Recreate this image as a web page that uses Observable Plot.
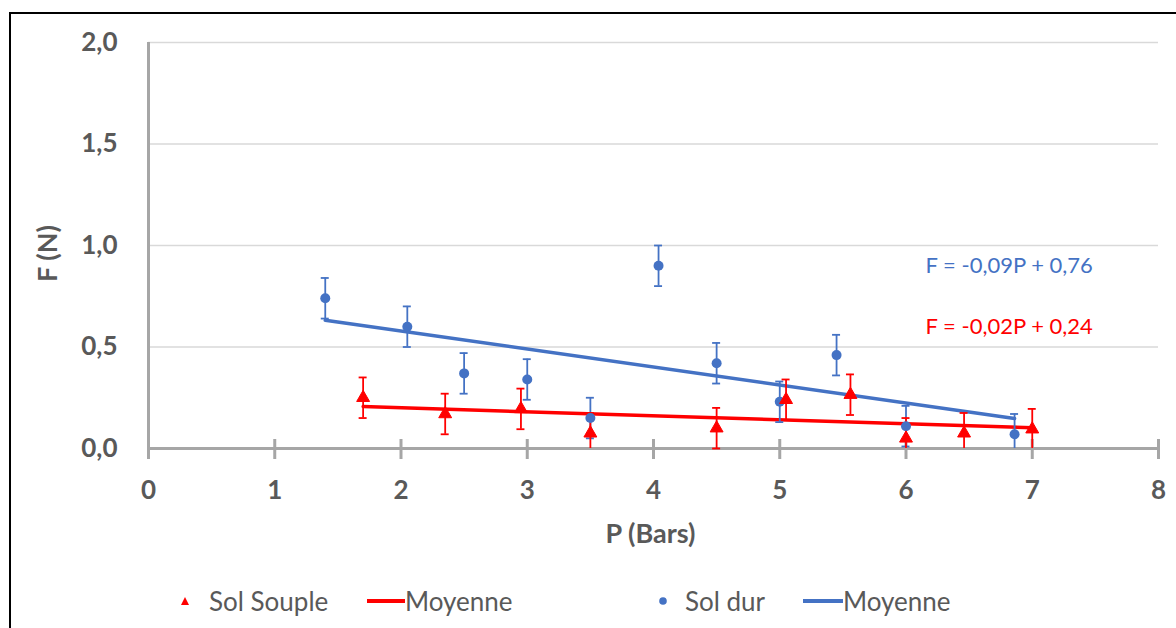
<!DOCTYPE html>
<html><head><meta charset="utf-8">
<script src="https://cdn.jsdelivr.net/npm/d3@7"></script>
<script src="https://cdn.jsdelivr.net/npm/@observablehq/plot@0.6"></script>
<style>
html,body{margin:0;padding:0;background:#fff;overflow:hidden;width:1176px;height:628px;}
#frame{position:absolute;left:9px;top:12px;width:1200px;height:700px;border:2px solid #000;box-sizing:border-box;}
#chart{position:absolute;left:0;top:0;}
#legend{position:absolute;top:582px;left:0;width:1176px;height:38px;font-family:Lato,sans-serif;font-size:26px;color:#595959;}
.item{position:absolute;top:0;height:38px;display:flex;align-items:center;white-space:nowrap;}
</style></head>
<body><div id="frame"></div><div id="chart"></div><div id="legend"></div>
<script>
// Sol dur (blue circles)
const pBlue = [1.40, 2.05, 2.50, 3.00, 3.50, 4.04, 4.50, 5.00, 5.45, 6.00, 6.86];
const fBlue = [0.74, 0.60, 0.37, 0.34, 0.15, 0.90, 0.42, 0.23, 0.46, 0.11, 0.07];
// Sol Souple (red triangles)
const pRed = [1.70, 2.35, 2.95, 3.50, 4.50, 5.05, 5.56, 6.00, 6.46, 7.00];
const fRed = [0.25, 0.17, 0.195, 0.075, 0.10, 0.24, 0.265, 0.05, 0.075, 0.095];
const errBar = 0.1;
const xTicks = [0, 1, 2, 3, 4, 5, 6, 7, 8];
const yTicks = [0, 0.5, 1.0, 1.5, 2.0];
const eqBlue = "F = -0,09P + 0,76";
const eqRed = "F = -0,02P + 0,24";
const xTitle = "P (Bars)";
const yTitle = "F (N)";
const legendLabels = ["Sol Souple", "Moyenne", "Sol dur", "Moyenne"];

const BLUE = "#4472C4", RED = "#FF0000", GRAY = "#595959", AXIS = "#A6A6A6";
const blue = pBlue.map((P, i) => ({P, F: fBlue[i]}));
const red = pRed.map((P, i) => ({P, F: fRed[i]}));
const fmt = d => d.toFixed(1).replace(".", ",");
const lo = d => Math.max(0, d.F - errBar);
const hi = d => d.F + errBar;

function errMarks(data, color) {
  return [
    Plot.ruleX(data, {x: "P", y1: lo, y2: hi, stroke: color, strokeWidth: 1.8}),
    Plot.ruleY(data, {y: hi, x1: "P", x2: "P", insetLeft: -4, insetRight: -4, stroke: color, strokeWidth: 1.8}),
    Plot.ruleY(data.filter(d => d.F - errBar >= -1e-9), {y: lo, x1: "P", x2: "P", insetLeft: -4, insetRight: -4, stroke: color, strokeWidth: 1.8})
  ];
}

const chart = Plot.plot({
  width: 1176, height: 560,
  marginLeft: 148, marginRight: 18, marginTop: 42, marginBottom: 112,
  x: {domain: [0, 8]},
  y: {domain: [0, 2]},
  style: {fontFamily: "Lato, sans-serif", background: "transparent", overflow: "visible"},
  marks: [
    Plot.gridY(yTicks.filter(d => d > 0), {stroke: "#D9D9D9", strokeOpacity: 1, strokeWidth: 1.5}),
    Plot.ruleY([0], {stroke: AXIS, strokeWidth: 3}),
    Plot.ruleX([0], {y1: 0, y2: 2, stroke: AXIS, strokeWidth: 3}),
    Plot.ruleX(xTicks, {y1: 0, y2: 0, insetTop: -9, insetBottom: -11, stroke: AXIS, strokeWidth: 3}),
    Plot.axisY(yTicks, {tickSize: 0, tickPadding: 31, tickFormat: fmt, fontSize: 26, fontWeight: "bold", fill: GRAY, label: null}),
    Plot.axisX(xTicks, {tickSize: 0, tickPadding: 32, tickFormat: d => String(d), fontSize: 26, fontWeight: "bold", fill: GRAY, label: null}),
    Plot.text([yTitle], {frameAnchor: "left", textAnchor: "middle", lineAnchor: "middle", dx: -100, dy: 8, rotate: -90, fontSize: 27, fontWeight: "bold", fill: GRAY}),
    Plot.text([xTitle], {frameAnchor: "bottom", textAnchor: "middle", lineAnchor: "middle", dx: -3, dy: 86, fontSize: 27, fontWeight: "bold", fill: GRAY}),
    Plot.text([eqBlue], {frameAnchor: "top-right", textAnchor: "start", lineAnchor: "middle", dx: -233, dy: 223, fontSize: 22, fill: BLUE}),
    Plot.text([eqRed], {frameAnchor: "top-right", textAnchor: "start", lineAnchor: "middle", dx: -233, dy: 284, fontSize: 22, fill: RED}),
    Plot.linearRegressionY(blue, {x: "P", y: "F", stroke: BLUE, strokeWidth: 3.5, ci: 0}),
    Plot.linearRegressionY(red, {x: "P", y: "F", stroke: RED, strokeWidth: 3.5, ci: 0}),
    ...errMarks(blue, BLUE),
    ...errMarks(red, RED),
    Plot.dot(blue, {x: "P", y: "F", r: 5, fill: BLUE, stroke: "none"}),
    Plot.dot(red, {x: "P", y: "F", r: 4.8, symbol: "triangle", fill: RED, stroke: RED, strokeWidth: 1})
  ]
});
document.getElementById("chart").appendChild(chart);

// Legend (HTML below the plot)
const legend = document.getElementById("legend");
const items = [
  {left: 178, sw: `<svg width="14" height="14"><path d="M7,3 L11,11 L3,11 Z" fill="${RED}"/></svg>`, gap: 17, label: legendLabels[0]},
  {left: 367, sw: `<svg width="38" height="10"><line x1="0" y1="5" x2="38" y2="5" stroke="${RED}" stroke-width="4"/></svg>`, gap: 0, label: legendLabels[1]},
  {left: 656, sw: `<svg width="14" height="14"><circle cx="7" cy="7" r="3.8" fill="${BLUE}"/></svg>`, gap: 15, label: legendLabels[2]},
  {left: 803, sw: `<svg width="40" height="10"><line x1="0" y1="5" x2="40" y2="5" stroke="${BLUE}" stroke-width="4"/></svg>`, gap: 0, label: legendLabels[3]}
];
for (const it of items) {
  const d = document.createElement("div");
  d.className = "item";
  d.style.left = it.left + "px";
  d.innerHTML = it.sw + `<span style="margin-left:${it.gap}px">${it.label}</span>`;
  legend.appendChild(d);
}
</script></body></html>
